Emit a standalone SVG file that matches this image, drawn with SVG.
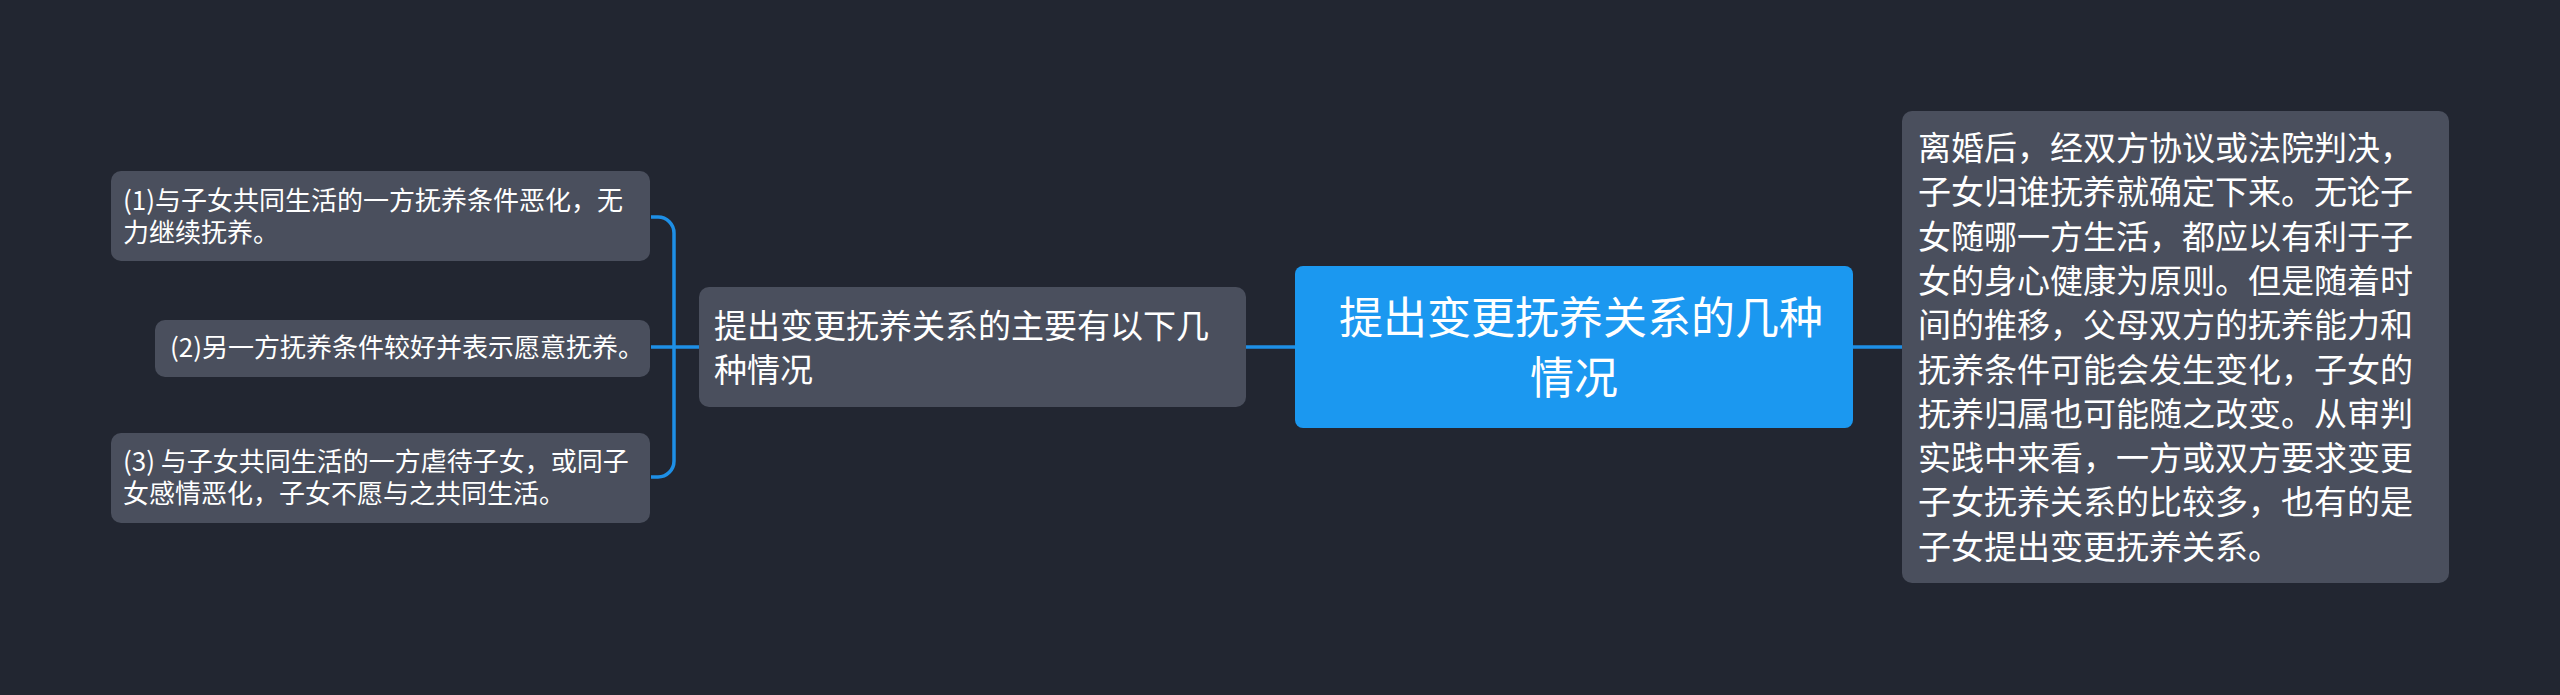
<svg xmlns="http://www.w3.org/2000/svg" width="2560" height="695" viewBox="0 0 2560 695">
<style>
.bg{fill:#222631}
.node{fill:#4a4f5d}
.root{fill:#1b98f0}
.t{font-family:"Noto Sans CJK SC","Noto Sans",sans-serif;fill:#ffffff}
.s26{font-size:26px}
.s33{font-size:33px}
.s44{font-size:44px}
.conn{fill:none;stroke:#1e8fe6;stroke-width:3.5}
</style>
<rect class="bg" x="0" y="0" width="2560" height="695"/>
<g id="connectors">
<path class="conn" d="M651,217 H658 A16,16 0 0 1 674,233 V461 A16,16 0 0 1 658,477 H651"/>
<path class="conn" d="M651,347 H699"/>
<path class="conn" d="M1246,347 H1295"/>
<path class="conn" d="M1853,347 H1902"/>
</g>
<g id="root">
<rect class="root" x="1295" y="266" width="558" height="162" rx="8"/>
<text class="t s44" x="1339" y="334">提出变更抚养关系的几种</text>
<text class="t s44" x="1574" y="394" text-anchor="middle">情况</text>
</g>
<g id="middle">
<rect class="node" x="699" y="287" width="547" height="120" rx="10"/>
<text class="t s33" x="714" y="338">提出变更抚养关系的主要有以下几</text>
<text class="t s33" x="714" y="382">种情况</text>
</g>
<g id="right">
<rect class="node" x="1902" y="111" width="547" height="472" rx="10"/>
<text class="t s33" x="1918">
<tspan x="1918" y="160">离婚后，经双方协议或法院判决，</tspan>
<tspan x="1918" y="204.3">子女归谁抚养就确定下来。无论子</tspan>
<tspan x="1918" y="248.6">女随哪一方生活，都应以有利于子</tspan>
<tspan x="1918" y="292.9">女的身心健康为原则。但是随着时</tspan>
<tspan x="1918" y="337.2">间的推移，父母双方的抚养能力和</tspan>
<tspan x="1918" y="381.5">抚养条件可能会发生变化，子女的</tspan>
<tspan x="1918" y="425.8">抚养归属也可能随之改变。从审判</tspan>
<tspan x="1918" y="470.1">实践中来看，一方或双方要求变更</tspan>
<tspan x="1918" y="514.4">子女抚养关系的比较多，也有的是</tspan>
<tspan x="1918" y="558.7">子女提出变更抚养关系。</tspan>
</text>
</g>
<g id="leaf1">
<rect class="node" x="111" y="171" width="539" height="90" rx="10"/>
<text class="t s26" x="123" y="210">(1)与子女共同生活的一方抚养条件恶化，无</text>
<text class="t s26" x="123" y="242">力继续抚养。</text>
</g>
<g id="leaf2">
<rect class="node" x="155" y="320" width="495" height="57" rx="10"/>
<text class="t s26" x="170" y="357">(2)另一方抚养条件较好并表示愿意抚养。</text>
</g>
<g id="leaf3">
<rect class="node" x="111" y="433" width="539" height="90" rx="10"/>
<text class="t s26" x="123" y="471">(3) 与子女共同生活的一方虐待子女，或同子</text>
<text class="t s26" x="123" y="503">女感情恶化，子女不愿与之共同生活。</text>
</g>
</svg>
